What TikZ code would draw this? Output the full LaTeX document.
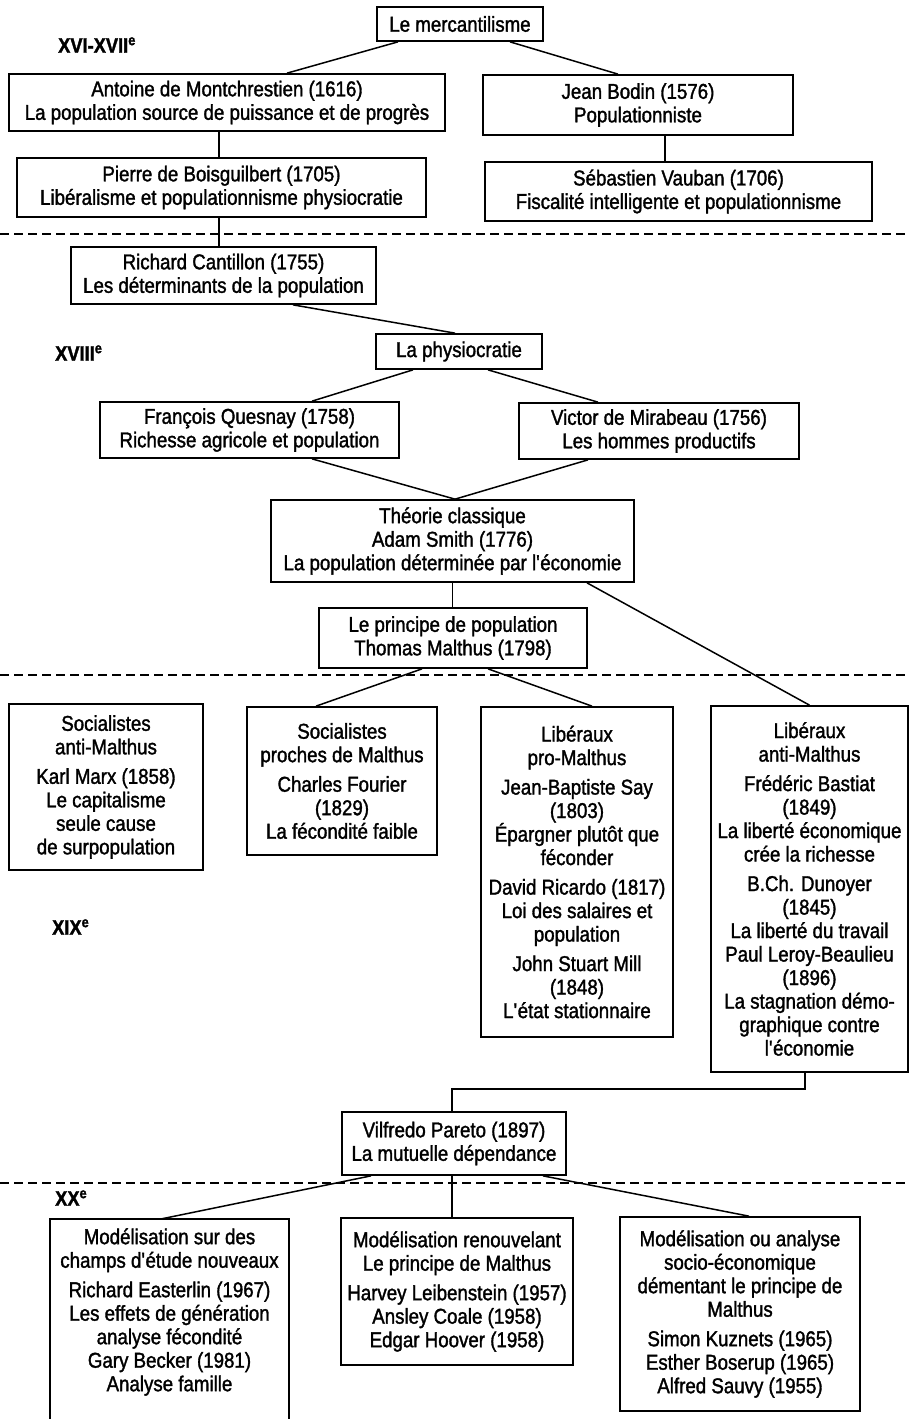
\documentclass[tikz,border=0pt]{standalone}
\usepackage{fontspec}
\setmainfont[FakeStretch=0.87, FakeBold=1.5]{Liberation Sans}
\newcommand{\corps}{\fontsize{21.5}{23.5}\selectfont}
\newcommand{\gras}{\fontsize{21}{24}\selectfont\bfseries}
\newcommand{\apos}{\textquotesingle}
\tikzset{
    cadre/.style={line width=1.7pt},
    boite/.style={draw, cadre, align=center, inner sep=0pt, font=\corps},
    lien/.style={line width=1.5pt},
    tirets/.style={line width=1.3pt, dash pattern=on 9pt off 5pt},
    siecle/.style={anchor=west, inner sep=0pt, font=\gras}
}
\begin{document}
\begin{tikzpicture}[x=1pt, y=-1pt]
            \useasboundingbox ( 0, 0 ) rectangle ( 910, 1419 );

% siècles
            \node [siecle] (s16) at ( 58, 45 ) {XVI-XVII\textsuperscript{e}};
            \node [siecle] (s18) at ( 55, 353 ) {XVIII\textsuperscript{e}};
            \node [siecle] (s19) at ( 52, 927 ) {XIX\textsuperscript{e}};
            \node [siecle] (s20) at ( 55, 1198 ) {XX\textsuperscript{e}};

% séparations
            \draw [tirets] ( 0, 234 ) -- ( 910, 234 );
            \draw [tirets] ( 0, 675 ) -- ( 910, 675 );
            \draw [tirets] ( 0, 1183 ) -- ( 910, 1183 );

% mercantilisme
            \node [boite, minimum width=166, minimum height=34] (merc) at ( 460, 24 ) {Le mercantilisme};
            \node [boite, minimum width=436, minimum height=57] (montch) at ( 227, 102.5 ) {Antoine de Montchrestien (1616)\\La population source de puissance et de progrès};
            \node [boite, minimum width=310, minimum height=60] (bodin) at ( 638, 105 ) {Jean Bodin (1576)\\Populationniste};
            \node [boite, minimum width=409, minimum height=59] (bois) at ( 221.5, 187.5 ) {Pierre de Boisguilbert (1705)\\Libéralisme et populationnisme physiocratie};
            \node [boite, minimum width=387, minimum height=59] (vauban) at ( 678.5, 191.5 ) {Sébastien Vauban (1706)\\Fiscalité intelligente et populationnisme};

% physiocratie
            \node [boite, minimum width=305, minimum height=57] (cantillon) at ( 223.5, 275.5 ) {Richard Cantillon (1755)\\Les déterminants de la population};
            \node [boite, minimum width=166, minimum height=35] (physio) at ( 459, 351.5 ) {La physiocratie};
            \node [boite, minimum width=299, minimum height=56] (quesnay) at ( 249.5, 430 ) {François Quesnay (1758)\\Richesse agricole et population};
            \node [boite, minimum width=280, minimum height=56] (mirabeau) at ( 659, 431 ) {Victor de Mirabeau (1756)\\Les hommes productifs};
            \node [boite, minimum width=363, minimum height=82] (theorie) at ( 452.5, 541 ) {Théorie classique\\Adam Smith (1776)\\La population déterminée par l\apos économie};
            \node [boite, minimum width=268, minimum height=60] (malthus) at ( 453, 638 ) {Le principe de population\\Thomas Malthus (1798)};

% XIXe
            \node [boite, minimum width=194, minimum height=166] (socanti) at ( 106, 787 ) {Socialistes\\anti-Malthus\\[6pt]Karl Marx (1858)\\Le capitalisme\\seule cause\\de surpopulation};
            \node [boite, minimum width=190, minimum height=148] (socproches) at ( 342, 781 ) {Socialistes\\proches de Malthus\\[6pt]Charles Fourier\\(1829)\\La fécondité faible};
            \node [boite, minimum width=192, minimum height=330] (libpro) at ( 577, 872 ) {Libéraux\\pro-Malthus\\[6pt]Jean-Baptiste Say\\(1803)\\Épargner plutôt que\\féconder\\[6pt]David Ricardo (1817)\\Loi des salaires et\\population\\[6pt]John Stuart Mill\\(1848)\\L\apos état stationnaire};
            \node [boite, minimum width=197, minimum height=366] (libanti) at ( 809.5, 889 ) {Libéraux\\anti-Malthus\\[6pt]Frédéric Bastiat\\(1849)\\La liberté économique\\crée la richesse\\[6pt]B.Ch. Dunoyer\\(1845)\\La liberté du travail\\Paul Leroy-Beaulieu\\(1896)\\La stagnation démo-\\graphique contre\\l\apos économie};
            \node [boite, minimum width=224, minimum height=63] (pareto) at ( 454, 1143.5 ) {Vilfredo Pareto (1897)\\La mutuelle dépendance};

% XXe
            \node [boite, draw=none, minimum width=237, minimum height=184] (mod1) at ( 169.5, 1312 ) {Modélisation sur des\\champs d\apos étude nouveaux\\[6pt]Richard Easterlin (1967)\\Les effets de génération\\analyse fécondité\\Gary Becker (1981)\\Analyse famille};
            \draw [cadre] ([yshift=-15pt]mod1.south west) -- (mod1.north west) -- (mod1.north east) -- ([yshift=-15pt]mod1.south east);
            \node [boite, minimum width=232, minimum height=147] (mod2) at ( 457, 1291.5 ) {Modélisation renouvelant\\Le principe de Malthus\\[6pt]Harvey Leibenstein (1957)\\Ansley Coale (1958)\\Edgar Hoover (1958)};
            \node [boite, minimum width=240, minimum height=194] (mod3) at ( 740, 1314 ) {Modélisation ou analyse\\socio-économique\\démentant le principe de\\Malthus\\[6pt]Simon Kuznets (1965)\\Esther Boserup (1965)\\Alfred Sauvy (1955)};

% liens
            \draw [lien] ([xshift=-62pt]merc.south) -- ([xshift=60pt]montch.north);
            \draw [lien] ([xshift=50pt]merc.south) -- ([xshift=-20pt]bodin.north);
            \draw [lien] ([xshift=-8pt]montch.south) -- ([xshift=-8pt]montch.south |- bois.north);
            \draw [lien] ([xshift=27pt]bodin.south) -- ([xshift=27pt]bodin.south |- vauban.north);
            \draw [lien] ([xshift=-2.5pt]bois.south) -- ([xshift=-2.5pt]bois.south |- cantillon.north);
            \draw [lien] ([xshift=69.5pt]cantillon.south) -- ([xshift=-4pt]physio.north);
            \draw [lien] ([xshift=-46pt]physio.south) -- ([xshift=62.5pt]quesnay.north);
            \draw [lien] ([xshift=29pt]physio.south) -- ([xshift=-61pt]mirabeau.north);
            \draw [lien] ([xshift=62.5pt]quesnay.south) -- ([xshift=2.5pt]theorie.north);
            \draw [lien] ([xshift=-71pt]mirabeau.south) -- ([xshift=2.5pt]theorie.north);
            \draw [lien] (theorie.south) -- (theorie.south |- malthus.north);
            \draw [lien] ([xshift=134.5pt]theorie.south) -- (libanti.north);
            \draw [lien] ([xshift=-31pt]malthus.south) -- ([xshift=-26pt]socproches.north);
            \draw [lien] ([xshift=35pt]malthus.south) -- ([xshift=15pt]libpro.north);
            \draw [lien] ([xshift=-4.5pt]libanti.south) -- ++( 0, 16 ) -| ([xshift=-2pt]pareto.north);
            \draw [lien] ([xshift=-83pt]pareto.south) -- ([xshift=-9.5pt]mod1.north);
            \draw [lien] ([xshift=-2pt]pareto.south) -- ([xshift=-2pt]pareto.south |- mod2.north);
            \draw [lien] ([xshift=89pt]pareto.south) -- ([xshift=9pt]mod3.north);
        \end{tikzpicture}
\end{document}
